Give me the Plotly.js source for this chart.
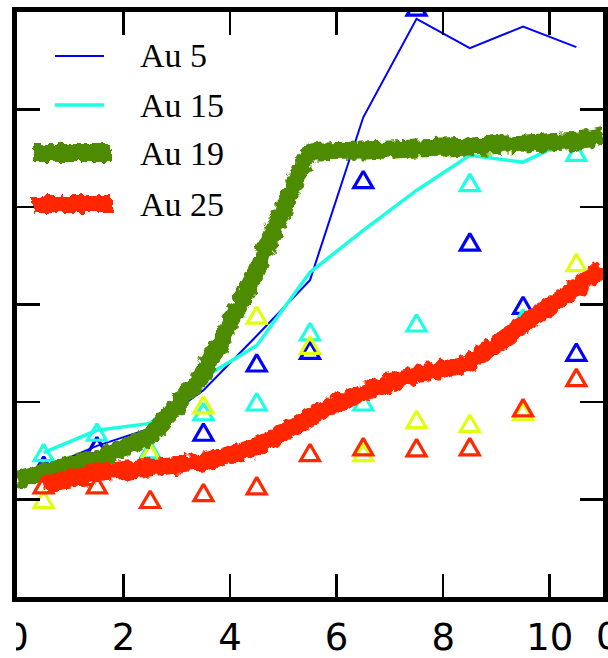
<!DOCTYPE html>
<html>
<head>
<meta charset="utf-8">
<script src="https://cdn.plot.ly/plotly-3.0.1.min.js"></script>
<style>
  html, body { margin: 0; padding: 0; background: #ffffff; }
  #chart { width: 608px; height: 658px; }
</style>
</head>
<body>
<!-- hand-drawn stroke effect for the thick fitted curves -->
<svg width="0" height="0" style="position:absolute">
  <defs>
    <filter id="rough" filterUnits="userSpaceOnUse" x="-200" y="-200" width="1200" height="1200">
      <feTurbulence type="fractalNoise" baseFrequency="0.14" numOctaves="2" seed="4" result="noise"/>
      <feDisplacementMap in="SourceGraphic" in2="noise" scale="10" xChannelSelector="R" yChannelSelector="G"/>
    </filter>
  </defs>
</svg>
<div id="chart"></div>
<script>
// sample positions
const xMid = [0.5, 1.5, 2.5, 3.5, 4.5, 5.5, 6.5, 7.5, 8.5, 9.5, 10.5];

// connected series
const au5Line  = [1.32, 1.55, 1.73, 2.12, 2.68, 3.25, 4.92, 5.93, 5.63, 5.85, 5.64];
const au15Line = [1.48, 1.71, 1.78, 2.25, 2.58, 3.33, 3.76, 4.17, 4.53, 4.46, 4.72];

// measured points (open triangles)
const au5Pts  = [1.35, 1.55, 1.50, 1.69, 2.40, 2.53, 4.28, 6.05, 3.64, 2.99, 2.51];
const au15Pts = [1.48, 1.69, 1.51, 1.90, 2.00, 2.72, 2.00, 2.81, 4.25, 2.86, 4.56];
const au19Pts = [1.00, 1.38, 1.48, 1.97, 2.89, 2.58, 1.48, 1.82, 1.78, 1.90, 3.43];
const au25Pts = [1.15, 1.15, 1.00, 1.07, 1.14, 1.48, 1.54, 1.53, 1.54, 1.94, 2.25];

// fitted curves
const fitX19    = [0, 0.5, 1.5, 2.5, 3.5, 4.5, 5.5, 6.5, 7.5, 8.5, 9.5, 10.5, 11];
const au19Fit   = [1.20, 1.28, 1.42, 1.65, 2.30, 3.35, 4.55, 4.58, 4.60, 4.62, 4.65, 4.68, 4.73];
const au19Guide = [1.18, 1.26, 1.44, 1.68, 2.36, 3.46, 4.58, 4.53, 4.55, 4.57, 4.60, 4.65, 4.71];
const fitX25    = [0.5, 1.5, 2.5, 3.5, 4.5, 5.5, 6.5, 7.5, 8.5, 9.5, 10.5, 11];
const au25Fit   = [1.15, 1.27, 1.33, 1.39, 1.54, 1.85, 2.10, 2.28, 2.41, 2.79, 3.17, 3.37];

// axis ticks and legend labels
const xTicks = [0, 2, 4, 6, 8, 10];
const xTickText = ['0', '2', '4', '6', '8', '10'];
const yTicks = [0, 1, 2, 3, 4, 5, 6];
const legendNames = ['Au 5', 'Au 15', 'Au 19', 'Au 25'];

const BLUE = '#0000ff', CYAN = '#1cffe0', YELLOW = '#e0ff10', GREEN = '#4d8b00', RED = '#ff2800';

function pts(y, color) {
  return {
    x: xMid, y: y, mode: 'markers', type: 'scatter', showlegend: false,
    marker: { symbol: 'triangle-up-open', size: 16, color: color, line: { width: 3.2, color: color } }
  };
}

const data = [
  pts(au5Pts, BLUE),
  { x: xMid, y: au5Line, mode: 'lines', type: 'scatter', showlegend: false, line: { color: BLUE, width: 2 } },
  pts(au15Pts, CYAN),
  { x: xMid, y: au15Line, mode: 'lines', type: 'scatter', showlegend: false, line: { color: CYAN, width: 3.5 } },
  pts(au19Pts, YELLOW),
  { x: fitX19, y: au19Guide, mode: 'lines', type: 'scatter', showlegend: false, line: { color: YELLOW, width: 8, shape: 'spline', smoothing: 0.25 } },
  { x: fitX19, y: au19Fit, mode: 'lines', type: 'scatter', showlegend: false, line: { color: GREEN, width: 18, shape: 'spline', smoothing: 0.25 } },
  pts(au25Pts, RED),
  { x: fitX25, y: au25Fit, mode: 'lines', type: 'scatter', showlegend: false, line: { color: RED, width: 18, shape: 'spline', smoothing: 0.6 } }
];

// legend built from shapes + text
const W = 586, H = 585, L = 17, T = 12;
const px = v => (v - L) / W;
const py = v => (T + H - v) / H;
const legendRows = [
  { y: 56,  color: BLUE,  width: 2,   x0: 55, x1: 104 },
  { y: 105, color: CYAN,  width: 3.5, x0: 55, x1: 104 },
  { y: 153, color: GREEN, width: 18,  x0: 33, x1: 112 },
  { y: 204, color: RED,   width: 18,  x0: 33, x1: 112 }
];

const shapes = legendRows.map(r => ({
  type: 'line', xref: 'paper', yref: 'paper', layer: 'above',
  x0: px(r.x0), x1: px(r.x1), y0: py(r.y), y1: py(r.y),
  line: { color: r.color, width: r.width }
}));
// canvas edge trims the first tick label
shapes.push({
  type: 'rect', xref: 'paper', yref: 'paper', layer: 'above',
  x0: px(-5), x1: px(16), y0: py(658), y1: py(610),
  fillcolor: '#ffffff', line: { width: 0 }
});

const annotations = legendRows.map((r, i) => ({
  xref: 'paper', yref: 'paper', x: px(138), y: py(r.y), xanchor: 'left', yanchor: 'middle',
  text: legendNames[i], showarrow: false,
  font: { family: 'Liberation Serif, serif', size: 34, color: '#000000' }
}));
// edge of the neighbouring tick label
annotations.push({
  xref: 'paper', yref: 'paper', x: px(594), y: py(636), xanchor: 'left', yanchor: 'middle',
  text: '0', showarrow: false,
  font: { family: 'DejaVu Sans, sans-serif', size: 37, color: '#000000' }
});

const axisCommon = {
  showline: true, linecolor: '#000000', linewidth: 5, mirror: 'ticks',
  ticks: 'inside', ticklen: 23, tickwidth: 2.5, tickcolor: '#000000',
  showgrid: false, zeroline: false, fixedrange: true
};

const layout = {
  width: 608, height: 658,
  margin: { l: L, r: 608 - L - W, t: T, b: 658 - T - H, pad: 0 },
  paper_bgcolor: '#ffffff', plot_bgcolor: '#ffffff',
  showlegend: false,
  xaxis: Object.assign({}, axisCommon, {
    range: [0, 11], tickmode: 'array', tickvals: xTicks, ticktext: xTickText,
    ticklabelstandoff: 4,
    tickfont: { family: 'DejaVu Sans, sans-serif', size: 37, color: '#000000' }
  }),
  yaxis: Object.assign({}, axisCommon, {
    range: [0, 6], tickmode: 'array', tickvals: yTicks, showticklabels: false
  }),
  shapes: shapes,
  annotations: annotations
};

Plotly.newPlot('chart', data, layout, { staticPlot: true, displayModeBar: false }).then(gd => {
  const traces = gd.querySelectorAll('.scatterlayer .trace');
  // equal-sided triangles for the point markers
  [0, 2, 4, 7].forEach(i => {
    if (!traces[i]) return;
    traces[i].querySelectorAll('path.point').forEach(p => p.setAttribute('d', 'M0,-8.5L-9.5,8H9.5Z'));
  });
  // rough stroke on the fitted curves
  [5, 6, 8].forEach(i => {
    if (!traces[i]) return;
    traces[i].querySelectorAll('path.js-line').forEach(p => p.setAttribute('filter', 'url(#rough)'));
  });
  gd.querySelectorAll('.shapelayer path').forEach(p => {
    const w = parseFloat(p.style.strokeWidth || '0');
    if (w > 10) p.setAttribute('filter', 'url(#rough)');
  });
});
</script>
</body>
</html>
